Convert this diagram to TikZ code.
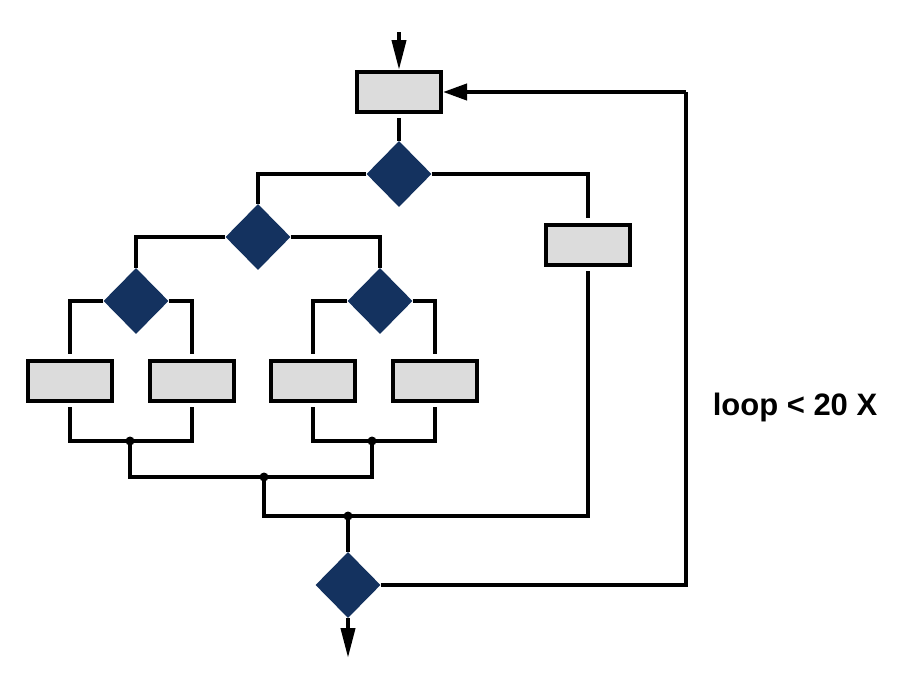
\documentclass[tikz,border=0pt]{standalone}
\usepackage{fontspec}
\setmainfont{Liberation Sans}
\usetikzlibrary{shapes.geometric,arrows.meta}
\definecolor{navy}{RGB}{20,50,95}
\definecolor{boxgray}{RGB}{220,220,220}
\tikzset{
  procbox/.style={draw=black, fill=boxgray, line width=4pt, minimum width=84pt, minimum height=40pt, inner sep=0pt},
  decision/.style={diamond, fill=navy, minimum width=65pt, minimum height=66pt, inner sep=0pt},
  conn/.style={line width=4pt, line cap=butt},
  junction/.style={circle, fill=black, minimum size=9pt, inner sep=0pt},
  vtip/.style={-{Triangle[length=30pt,width=14pt]}},
  htip/.style={-{Triangle[length=24pt,width=16pt]}},
  looplabel/.style={font=\bfseries\fontsize{31}{36}\selectfont}
}
\begin{document}
\begin{tikzpicture}[x=1pt,y=-1pt]
\useasboundingbox (0,0) rectangle (912,688);
% nodes
\node[procbox] (tb) at (399,92) {};
\node[decision] (d1) at (399,174) {};
\node[procbox] (rb) at (588,245) {};
\node[decision] (d2) at (258,237) {};
\node[decision] (d3) at (136,301) {};
\node[decision] (d4) at (380,301) {};
\node[procbox] (b1) at (70,381) {};
\node[procbox] (b2) at (192,381) {};
\node[procbox] (b3) at (313,381) {};
\node[procbox] (b4) at (435,381) {};
\node[decision] (d5) at (348,585) {};
\coordinate (start) at (399,32);
\coordinate (stop) at (348,658);
\coordinate (j1) at (130,441);
\coordinate (j2) at (372,441);
\coordinate (j3) at (264,477);
\coordinate (j4) at (348,516);
\coordinate (loopT) at (686,92);
\node[looplabel] (lbl) at (795,407) {loop < 20 X};
% connectors
\draw[conn, vtip] (start) -- (tb.north);
\draw[conn, shorten <=4pt] (tb.south) -- (d1.north);
\draw[conn] (d1.west) -| (d2.north);
\draw[conn, shorten >=5pt] (d1.east) -| (rb.north);
\draw[conn] (d2.west) -| (d3.north);
\draw[conn] (d2.east) -| (d4.north);
\draw[conn, shorten >=5pt] (d3.west) -| (b1.north);
\draw[conn, shorten >=5pt] (d3.east) -| (b2.north);
\draw[conn, shorten >=5pt] (d4.west) -| (b3.north);
\draw[conn, shorten >=5pt] (d4.east) -| (b4.north);
\draw[conn, shorten <=4pt] (b1.south) |- (j1);
\draw[conn, shorten >=4pt] (j1) -| (b2.south);
\draw[conn, shorten <=4pt] (b3.south) |- (j2);
\draw[conn, shorten >=4pt] (j2) -| (b4.south);
\draw[conn] (j1) |- (j3);
\draw[conn] (j3) -| (j2);
\draw[conn] (j3) |- (j4);
\draw[conn, shorten >=4pt] (j4) -| (rb.south);
\draw[conn] (j4) -- (d5.north);
\draw[conn, vtip] (d5.south) -- (stop);
\draw[conn] (d5.east) -| (loopT);
\draw[conn, htip] (loopT) -- (tb.east);
% junction dots
\node[junction] (jd1) at (j1) {};
\node[junction] (jd2) at (j2) {};
\node[junction] (jd3) at (j3) {};
\node[junction] (jd4) at (j4) {};
\end{tikzpicture}
\end{document}
